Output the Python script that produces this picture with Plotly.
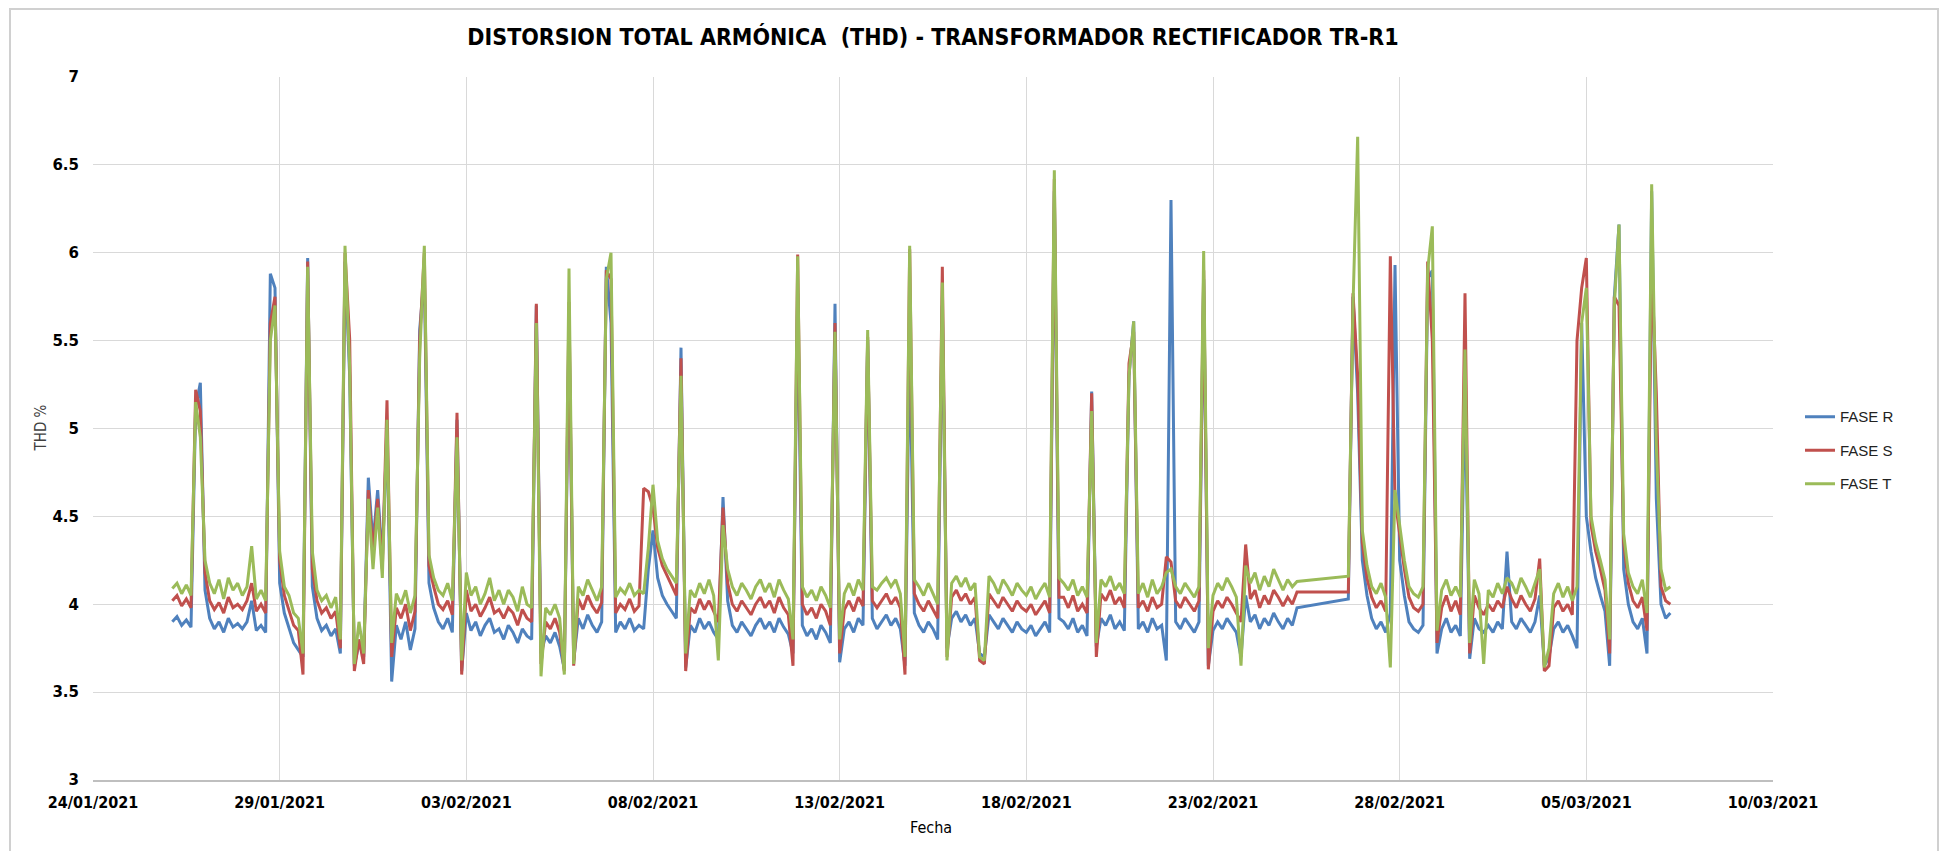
import plotly.graph_objects as go
import pandas as pd

# --- Muestreo (cada 3 h), dos tramos: hay un hueco sin datos el 25-26/02 ---
TRAMO_1 = ("2021-01-26 03:00", "2021-02-25 06:00")
TRAMO_2 = ("2021-02-26 15:00", "2021-03-07 06:00")
PASO = "3h"

# --- THD % por fase, un renglon por dia (horas 0,3,6,...,21) ---
FASE_R = [
    3.90, 3.93, 3.88, 3.91, 3.87, 5.12, 5.26,             # 26/01 (desde 03h)
    4.08, 3.92, 3.86, 3.90, 3.84, 3.92, 3.87, 3.89,       # 27/01
    3.86, 3.90, 4.02, 3.85, 3.88, 3.84, 5.88, 5.80,       # 28/01
    4.12, 3.95, 3.86, 3.78, 3.74, 3.70, 5.97, 4.10,       # 29/01
    3.92, 3.85, 3.88, 3.82, 3.86, 3.72, 5.95, 5.30,       # 30/01
    3.65, 3.78, 3.70, 4.72, 4.35, 4.65, 4.25, 5.00,       # 31/01
    3.56, 3.88, 3.80, 3.90, 3.74, 3.86, 5.56, 5.88,       # 01/02
    4.12, 3.98, 3.90, 3.86, 3.92, 3.84, 5.05, 3.62,       # 02/02
    3.95, 3.85, 3.90, 3.82, 3.88, 3.92, 3.84, 3.86,       # 03/02
    3.80, 3.88, 3.84, 3.78, 3.86, 3.82, 3.80, 5.70,       # 04/02
    3.72, 3.82, 3.78, 3.84, 3.76, 3.63, 5.60, 3.68,       # 05/02
    3.92, 3.86, 3.94, 3.88, 3.84, 3.90, 5.92, 5.60,       # 06/02
    3.84, 3.90, 3.86, 3.92, 3.85, 3.88, 3.86, 4.20,       # 07/02
    4.42, 4.15, 4.05, 4.00, 3.96, 3.92, 5.46, 3.64,       # 08/02
    3.88, 3.84, 3.92, 3.86, 3.90, 3.84, 3.80, 4.61,       # 09/02
    4.02, 3.88, 3.84, 3.90, 3.86, 3.82, 3.88, 3.92,       # 10/02
    3.86, 3.90, 3.84, 3.92, 3.87, 3.83, 3.72, 5.77,       # 11/02
    3.88, 3.82, 3.86, 3.80, 3.88, 3.84, 3.78, 5.71,       # 12/02
    3.67, 3.86, 3.90, 3.84, 3.92, 3.88, 5.50, 3.92,       # 13/02
    3.86, 3.90, 3.94, 3.88, 3.92, 3.86, 3.65, 5.50,       # 14/02
    3.95, 3.88, 3.84, 3.90, 3.86, 3.80, 5.70, 3.75,       # 15/02
    3.92, 3.96, 3.90, 3.94, 3.88, 3.92, 3.72, 3.70,       # 16/02
    3.94, 3.90, 3.86, 3.92, 3.88, 3.84, 3.90, 3.86,       # 17/02
    3.84, 3.88, 3.82, 3.86, 3.90, 3.84, 6.35, 3.92,       # 18/02
    3.90, 3.86, 3.92, 3.84, 3.88, 3.82, 5.21, 3.76,       # 19/02
    3.92, 3.88, 3.94, 3.86, 3.90, 3.85, 5.30, 5.61,       # 20/02
    3.86, 3.90, 3.84, 3.92, 3.86, 3.88, 3.68, 6.30,       # 21/02
    3.90, 3.86, 3.92, 3.88, 3.84, 3.90, 5.85, 3.65,       # 22/02
    3.85, 3.90, 3.86, 3.92, 3.88, 3.84, 3.70, 4.05,       # 23/02
    3.90, 3.94, 3.86, 3.92, 3.88, 3.95, 3.90, 3.86,       # 24/02
    3.92, 3.88, 3.98,                                     # 25/02 (hasta 06h)
    4.03, 5.75, 5.20,                                     # 26/02 (desde 15h)
    4.25, 4.05, 3.92, 3.86, 3.90, 3.84, 3.95, 5.93,       # 27/02
    4.25, 4.05, 3.90, 3.86, 3.84, 3.88, 5.85, 5.90,       # 28/02
    3.72, 3.86, 3.92, 3.84, 3.88, 3.82, 5.25, 3.69,       # 01/03
    3.92, 3.86, 3.84, 3.88, 3.84, 3.90, 3.86, 4.30,       # 02/03
    3.90, 3.86, 3.92, 3.88, 3.84, 3.90, 4.05, 3.65,       # 03/03
    3.70, 3.86, 3.90, 3.84, 3.88, 3.82, 3.75, 5.60,       # 04/03
    4.50, 4.30, 4.15, 4.05, 3.96, 3.65, 5.75, 6.16,       # 05/03
    4.20, 4.00, 3.90, 3.86, 3.92, 3.72, 6.35, 4.60,       # 06/03
    4.00, 3.92, 3.95,                                     # 07/03
]

FASE_S = [
    4.02, 4.05, 3.99, 4.03, 3.98, 5.22, 5.10,             # 26/01
    4.18, 4.02, 3.97, 4.01, 3.95, 4.04, 3.98, 4.00,       # 27/01
    3.97, 4.02, 4.12, 3.96, 4.00, 3.95, 5.60, 5.75,       # 28/01
    4.25, 4.05, 3.96, 3.88, 3.85, 3.60, 5.95, 4.20,       # 29/01
    4.02, 3.95, 3.98, 3.92, 3.96, 3.75, 6.00, 5.51,       # 30/01
    3.62, 3.80, 3.66, 4.65, 4.30, 4.60, 4.20, 5.16,       # 31/01
    3.70, 3.98, 3.92, 4.00, 3.85, 3.96, 5.50, 6.00,       # 01/02
    4.22, 4.10, 4.00, 3.97, 4.02, 3.94, 5.09, 3.60,       # 02/02
    4.08, 3.96, 4.00, 3.93, 3.98, 4.04, 3.95, 3.97,       # 03/02
    3.92, 3.98, 3.95, 3.88, 3.97, 3.92, 3.90, 5.71,       # 04/02
    3.66, 3.90, 3.86, 3.92, 3.84, 3.62, 5.72, 3.65,       # 05/02
    4.03, 3.97, 4.05, 3.99, 3.95, 4.01, 5.90, 5.85,       # 06/02
    3.95, 4.00, 3.97, 4.03, 3.96, 3.99, 4.66, 4.64,       # 07/02
    4.55, 4.32, 4.22, 4.16, 4.10, 4.05, 5.40, 3.62,       # 08/02
    3.98, 3.95, 4.03, 3.97, 4.02, 3.96, 3.90, 4.55,       # 09/02
    4.12, 4.00, 3.96, 4.02, 3.98, 3.94, 4.00, 4.04,       # 10/02
    3.98, 4.02, 3.95, 4.04, 3.98, 3.94, 3.65, 5.99,       # 11/02
    4.00, 3.94, 3.98, 3.92, 4.00, 3.96, 3.88, 5.60,       # 12/02
    3.72, 3.97, 4.02, 3.96, 4.04, 3.99, 5.52, 4.02,       # 13/02
    3.98, 4.02, 4.06, 4.00, 4.04, 3.98, 3.60, 6.02,       # 14/02
    4.06, 4.00, 3.96, 4.02, 3.97, 3.92, 5.92, 3.70,       # 15/02
    4.04, 4.08, 4.02, 4.06, 4.00, 4.04, 3.68, 3.66,       # 16/02
    4.06, 4.02, 3.98, 4.04, 4.00, 3.96, 4.02, 3.98,       # 17/02
    3.96, 4.00, 3.94, 3.98, 4.02, 3.95, 6.42, 4.04,       # 18/02
    4.04, 3.98, 4.05, 3.96, 4.00, 3.95, 5.20, 3.70,       # 19/02
    4.06, 4.02, 4.08, 4.00, 4.04, 3.98, 5.37, 5.55,       # 20/02
    3.98, 4.02, 3.96, 4.04, 3.98, 4.00, 4.27, 4.24,       # 21/02
    4.02, 3.98, 4.04, 4.00, 3.96, 4.02, 5.90, 3.63,       # 22/02
    3.96, 4.02, 3.98, 4.04, 4.00, 3.95, 3.90, 4.34,       # 23/02
    4.03, 4.08, 3.98, 4.05, 4.00, 4.08, 4.04, 3.99,       # 24/02
    4.04, 4.00, 4.07,                                     # 25/02
    4.07, 5.77, 5.30,                                     # 26/02
    4.35, 4.15, 4.04, 3.98, 4.02, 3.96, 5.98, 4.60,       # 27/02
    4.40, 4.20, 4.04, 3.98, 3.96, 4.00, 5.95, 5.50,       # 28/02
    3.78, 3.98, 4.05, 3.96, 4.02, 3.94, 5.77, 3.72,       # 01/03
    4.05, 3.98, 3.94, 4.00, 3.96, 4.02, 3.98, 4.10,       # 02/03
    4.03, 3.98, 4.05, 4.00, 3.96, 4.03, 4.26, 3.62,       # 03/03
    3.65, 3.98, 4.02, 3.96, 4.00, 3.94, 5.50, 5.80,       # 04/03
    5.97, 4.45, 4.30, 4.20, 4.08, 3.72, 5.75, 5.70,       # 05/03
    4.35, 4.12, 4.02, 3.98, 4.04, 3.85, 5.93, 5.20,       # 06/03
    4.10, 4.02, 4.00,                                     # 07/03
]

FASE_T = [
    4.09, 4.12, 4.06, 4.11, 4.05, 5.15, 4.95,             # 26/01
    4.25, 4.12, 4.06, 4.14, 4.03, 4.15, 4.08, 4.12,       # 27/01
    4.05, 4.10, 4.33, 4.03, 4.08, 4.02, 5.50, 5.70,       # 28/01
    4.30, 4.10, 4.05, 3.95, 3.92, 3.72, 5.92, 4.30,       # 29/01
    4.08, 4.02, 4.05, 3.98, 4.04, 3.80, 6.04, 5.35,       # 30/01
    3.66, 3.90, 3.72, 4.60, 4.20, 4.55, 4.15, 5.05,       # 31/01
    3.78, 4.06, 4.00, 4.08, 3.95, 4.05, 5.40, 6.04,       # 01/02
    4.28, 4.15, 4.08, 4.05, 4.12, 4.02, 4.95, 3.68,       # 02/02
    4.18, 4.05, 4.10, 4.00, 4.06, 4.15, 4.02, 4.08,       # 03/02
    4.00, 4.08, 4.04, 3.96, 4.10, 4.00, 3.98, 5.60,       # 04/02
    3.59, 3.98, 3.94, 4.00, 3.92, 3.60, 5.91, 3.66,       # 05/02
    4.10, 4.05, 4.14, 4.08, 4.02, 4.10, 5.85, 6.00,       # 06/02
    4.04, 4.09, 4.06, 4.12, 4.05, 4.08, 4.06, 4.32,       # 07/02
    4.68, 4.36, 4.26, 4.20, 4.16, 4.12, 5.30, 3.72,       # 08/02
    4.08, 4.04, 4.12, 4.06, 4.14, 4.05, 3.68, 4.45,       # 09/02
    4.20, 4.10, 4.05, 4.12, 4.08, 4.03, 4.10, 4.14,       # 10/02
    4.07, 4.12, 4.04, 4.14, 4.08, 4.03, 3.80, 5.98,       # 11/02
    4.10, 4.04, 4.08, 4.02, 4.10, 4.05, 3.98, 5.55,       # 12/02
    3.80, 4.06, 4.12, 4.05, 4.14, 4.08, 5.56, 4.10,       # 13/02
    4.08, 4.12, 4.15, 4.10, 4.14, 4.06, 3.70, 6.04,       # 14/02
    4.14, 4.10, 4.05, 4.12, 4.06, 4.00, 5.83, 3.68,       # 15/02
    4.12, 4.16, 4.10, 4.15, 4.08, 4.12, 3.70, 3.68,       # 16/02
    4.16, 4.12, 4.06, 4.14, 4.10, 4.05, 4.12, 4.08,       # 17/02
    4.05, 4.10, 4.03, 4.08, 4.12, 4.04, 6.47, 4.15,       # 18/02
    4.12, 4.08, 4.14, 4.05, 4.10, 4.04, 5.10, 3.78,       # 19/02
    4.14, 4.10, 4.16, 4.08, 4.12, 4.06, 5.30, 5.61,       # 20/02
    4.06, 4.12, 4.04, 4.14, 4.06, 4.10, 4.18, 4.20,       # 21/02
    4.10, 4.06, 4.12, 4.08, 4.04, 4.10, 6.01, 3.75,       # 22/02
    4.05, 4.12, 4.08, 4.15, 4.10, 4.04, 3.65, 4.22,       # 23/02
    4.12, 4.18, 4.08, 4.16, 4.10, 4.20, 4.14, 4.08,       # 24/02
    4.14, 4.10, 4.13,                                     # 25/02
    4.16, 5.70, 6.66,                                     # 26/02
    4.42, 4.22, 4.10, 4.06, 4.12, 4.04, 3.64, 4.65,       # 27/02
    4.45, 4.25, 4.10, 4.06, 4.04, 4.10, 5.90, 6.15,       # 28/02
    3.85, 4.08, 4.14, 4.05, 4.10, 4.04, 5.45, 3.78,       # 01/03
    4.14, 4.06, 3.66, 4.08, 4.04, 4.12, 4.06, 4.15,       # 02/03
    4.12, 4.06, 4.15, 4.10, 4.04, 4.12, 4.20, 3.64,       # 03/03
    3.75, 4.06, 4.12, 4.04, 4.10, 4.02, 4.10, 5.60,       # 04/03
    5.80, 4.50, 4.35, 4.25, 4.14, 3.80, 5.70, 6.16,       # 05/03
    4.40, 4.18, 4.10, 4.06, 4.14, 3.95, 6.39, 4.90,       # 06/03
    4.20, 4.08, 4.10,                                     # 07/03
]

NOMBRES = ["FASE R", "FASE S", "FASE T"]
COLORES = ["#4F81BD", "#C0504D", "#9BBB59"]

TITULO = "DISTORSION TOTAL ARMÓNICA  (THD) - TRANSFORMADOR RECTIFICADOR TR-R1"
RANGO_FECHAS = ["2021-01-24", "2021-03-10"]

fechas = pd.date_range(*TRAMO_1, freq=PASO).append(pd.date_range(*TRAMO_2, freq=PASO))
for serie in (FASE_R, FASE_S, FASE_T):
    if len(serie) != len(fechas):
        raise ValueError(f"{len(serie)} valores para {len(fechas)} fechas")

FUENTE_ESTRECHA = "Liberation Sans Narrow, DejaVu Sans Condensed, Roboto Condensed, Liberation Sans, sans-serif"

# la pagina deja 8 px de margen alrededor de la figura
ANCHO, ALTO = 1932, 843
IZQ, DER, ARR, ABA = 85, 1765, 69, 772   # area de trazado, en px de la figura
ANCHO_AREA, ALTO_AREA = DER - IZQ, ABA - ARR

fig = go.Figure()
for nombre, valores, color in zip(NOMBRES, [FASE_R, FASE_S, FASE_T], COLORES):
    fig.add_trace(go.Scatter(
        x=fechas,
        y=valores,
        name=nombre,
        legendgroup=nombre,
        mode="lines",
        line=dict(color=color, width=3),
    ))

fig.update_layout(
    width=ANCHO,
    height=ALTO,
    margin=dict(l=IZQ, r=ANCHO - DER, t=ARR, b=ALTO - ABA),
    paper_bgcolor="white",
    plot_bgcolor="white",
    title=dict(
        text=f"<b>{TITULO}</b>",
        x=0.5, xref="paper", xanchor="center",
        y=1 - 29 / ALTO, yref="container", yanchor="middle",
        font=dict(family=FUENTE_ESTRECHA, size=23, color="black"),
    ),
    xaxis=dict(
        type="date",
        range=RANGO_FECHAS,
        tick0=RANGO_FECHAS[0],
        dtick=5 * 86400000,
        tickformat="%d/%m/%Y",
        tickfont=dict(family=FUENTE_ESTRECHA, size=16, color="black", weight="bold"),
        ticklabelstandoff=7,
        showgrid=True,
        gridcolor="#D9D9D9",
        gridwidth=1.3,
        showline=True,
        linecolor="#BFBFBF",
        linewidth=2,
        zeroline=False,
    ),
    yaxis=dict(
        range=[3, 7],
        dtick=0.5,
        tickfont=dict(family="DejaVu Sans", size=15, color="black", weight="bold"),
        ticklabelstandoff=13,
        showgrid=True,
        gridcolor="#D9D9D9",
        gridwidth=1.3,
        showline=False,
        zeroline=False,
    ),
    legend=dict(
        x=(1800 - 8 - IZQ) / ANCHO_AREA, xanchor="left",
        y=0.54, yanchor="top",
        font=dict(family="Liberation Sans, sans-serif", size=15, color="#222"),
        tracegroupgap=11,
        itemwidth=30,
        bgcolor="rgba(0,0,0,0)",
    ),
    showlegend=True,
    annotations=[
        dict(text="THD %", x=(29 - 8 - IZQ) / ANCHO_AREA, y=0.5, xref="paper", yref="paper",
             textangle=-90, showarrow=False,
             font=dict(family=FUENTE_ESTRECHA, size=15, color="#404040")),
        dict(text="Fecha", x=0.499, y=(ABA - (839 - 8)) / ALTO_AREA, xref="paper", yref="paper",
             showarrow=False,
             font=dict(family=FUENTE_ESTRECHA, size=16, color="black")),
    ],
    shapes=[
        dict(type="rect", xref="paper", yref="paper",
             x0=(2 - IZQ) / ANCHO_AREA, x1=(ANCHO - 2 - IZQ) / ANCHO_AREA,
             y0=(ABA - ALTO - 20) / ALTO_AREA, y1=(ABA - 1) / ALTO_AREA,
             line=dict(color="#D0D0D0", width=2), layer="below"),
    ],
)

fig.write_html("out.html")
